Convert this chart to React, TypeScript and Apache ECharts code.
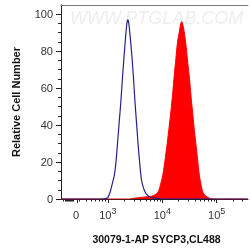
import React, { useEffect, useRef } from "react";
import * as echarts from "echarts";

// x values are display-channel positions (log10 of fluorescence, logicle-like near 0)
const blueX = [2.14, 2.9, 2.96, 3.0, 3.04, 3.08, 3.12, 3.15, 3.18, 3.21, 3.24, 3.27, 3.3, 3.33, 3.35, 3.367, 3.385, 3.41, 3.44, 3.47, 3.5, 3.53, 3.56, 3.59, 3.62, 3.66, 3.7, 3.75, 3.8, 3.9, 4.0, 5.57];
const blueY = [0, 0, 0.3, 0.8, 3.5, 8, 13, 20, 31, 42, 53, 66, 78, 89, 95, 97, 95, 88, 78, 66, 52, 40, 28, 18, 10, 5.5, 3, 1.5, 0.8, 0.3, 0, 0];
const redX = [2.14, 3.4, 3.5, 3.65, 3.8, 3.88, 3.93, 3.97, 4.01, 4.05, 4.09, 4.13, 4.16, 4.19, 4.22, 4.25, 4.28, 4.31, 4.34, 4.358, 4.38, 4.41, 4.44, 4.47, 4.5, 4.53, 4.56, 4.59, 4.62, 4.65, 4.68, 4.71, 4.74, 4.78, 4.83, 4.88, 4.95, 5.57];
const redY = [0, 0, 0.5, 1, 1.5, 2.5, 4, 8, 13, 21, 30, 40, 48, 57, 67, 76, 85, 90, 95, 96, 94, 89, 82, 73, 65, 55, 46, 37, 29, 21, 13, 8, 4, 2, 1, 0.3, 0, 0];

const xMajorTicks = [2.44, 3, 4, 5];
const xMajorLabels = ["0", "3", "4", "5"];
const xMinorTicks = [2.19, 2.21, 2.23, 2.25, 2.27, 2.29, 2.31, 2.33, 2.35, 2.37, 2.477, 2.602, 2.699, 2.778, 2.845, 2.903, 2.954, 3.301, 3.477, 3.602, 3.699, 3.778, 3.845, 3.903, 3.954, 4.301, 4.477, 4.602, 4.699, 4.778, 4.845, 4.903, 4.954, 5.301, 5.477];
const yMajorTicks = [0, 20, 40, 60, 80, 100];
const yMinorTicks = [5, 10, 15, 25, 30, 35, 45, 50, 55, 65, 70, 75, 85, 90, 95];

const FONT = "Arial, 'Liberation Sans', sans-serif";

export default function App() {
  const ref = useRef<HTMLDivElement>(null);
  useEffect(() => {
    const chart = echarts.init(ref.current!, undefined, { renderer: "svg" });
    const xMin = 2.14;
    const xMax = 5.574;
    chart.setOption({
      animation: false,
      grid: { left: 61, right: 2, top: 5, bottom: 49, containLabel: false },
      graphic: [
        {
          type: "text",
          left: 70,
          top: 9,
          z: -10,
          style: {
            text: "WWW.PTGLAB.COM",
            fontSize: 18,
            fontStyle: "italic",
            fontFamily: FONT,
            fill: "#eeeeee",
          },
        },
      ],
      xAxis: [
        {
          type: "value",
          position: "bottom",
          min: xMin,
          max: xMax,
          name: "30079-1-AP SYCP3,CL488",
          nameLocation: "middle",
          nameGap: 34,
          nameTextStyle: { fontSize: 10.5, fontWeight: "bold", color: "#111", fontFamily: FONT, padding: [0, 0, 0, 4] },
          axisLine: { show: true, onZero: false, lineStyle: { color: "#222", width: 1 } },
          axisTick: { show: true, customValues: xMajorTicks, length: 4, lineStyle: { color: "#222" } },
          axisLabel: {
            customValues: xMajorTicks,
            margin: 7,
            color: "#333",
            fontFamily: FONT,
            formatter: (v: number) => {
              const i = xMajorTicks.findIndex((t) => Math.abs(t - v) < 0.005);
              const lab = xMajorLabels[i];
              if (lab === "0") return "{b|0}{s| }";
              return "{b|10}{s|" + lab + "}";
            },
            rich: {
              b: { fontSize: 11, color: "#333", fontFamily: FONT },
              s: { fontSize: 9, color: "#333", fontFamily: FONT, padding: [0, 0, 8, 0] },
            },
          },
          splitLine: { show: false },
        },
        {
          type: "value",
          position: "bottom",
          min: xMin,
          max: xMax,
          axisLine: { show: false, onZero: false },
          axisTick: { show: true, customValues: xMinorTicks, length: 2.5, lineStyle: { color: "#222" } },
          axisLabel: { show: false },
          splitLine: { show: false },
        },
        {
          type: "value",
          position: "top",
          min: xMin,
          max: xMax,
          axisLine: { show: true, onZero: false, lineStyle: { color: "#777", width: 1 } },
          axisTick: { show: false },
          axisLabel: { show: false },
          splitLine: { show: false },
        },
      ],
      yAxis: [
        {
          type: "value",
          position: "left",
          min: 0,
          max: 105,
          name: "Relative Cell Number",
          nameLocation: "middle",
          nameGap: 40,
          nameTextStyle: { fontSize: 11, fontWeight: "bold", color: "#111", fontFamily: FONT },
          axisLine: { show: true, onZero: false, lineStyle: { color: "#222", width: 1 } },
          axisTick: { show: true, customValues: yMajorTicks, length: 5, lineStyle: { color: "#222" } },
          axisLabel: { customValues: yMajorTicks, margin: 8, fontSize: 11, color: "#333", fontFamily: FONT },
          splitLine: { show: false },
        },
        {
          type: "value",
          position: "left",
          min: 0,
          max: 105,
          axisLine: { show: false, onZero: false },
          axisTick: { show: true, customValues: yMinorTicks, length: 3, lineStyle: { color: "#222" } },
          axisLabel: { show: false },
          splitLine: { show: false },
        },
      ],
      series: [
        {
          type: "line",
          xAxisIndex: 0,
          yAxisIndex: 0,
          data: redX.map((x, i) => [x, redY[i]]),
          smooth: 0.3,
          showSymbol: false,
          lineStyle: { color: "#ff0000", width: 1 },
          areaStyle: { color: "#ff0000", opacity: 1 },
          z: 2,
        },
        {
          type: "line",
          xAxisIndex: 0,
          yAxisIndex: 0,
          data: blueX.map((x, i) => [x, blueY[i]]),
          smooth: 0.3,
          showSymbol: false,
          lineStyle: { color: "#22228a", width: 1.2 },
          z: 3,
        },
      ],
    });
    return () => chart.dispose();
  }, []);
  return <div ref={ref} style={{ position: "fixed", left: 0, top: 0, width: 250, height: 249 }} />;
}
